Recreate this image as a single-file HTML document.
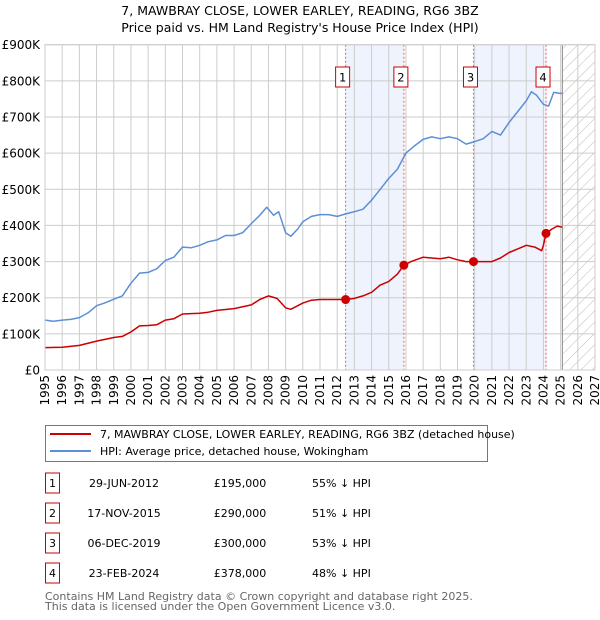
<!DOCTYPE html>
<html><head><meta charset="utf-8"><style>
body{margin:0;background:#fff;font-family:"DejaVu Sans","Liberation Sans",sans-serif;}
#wrap{position:relative;width:600px;height:620px;overflow:hidden}
svg text{font-family:"DejaVu Sans","Liberation Sans",sans-serif}
</style></head><body>
<div id="wrap">
<svg id="chart" width="600" height="620"></svg>
</div>
<script>
const hpiYears=[1995,1995.5,1996,1996.5,1997,1997.5,1998,1998.5,1999,1999.5,2000,2000.5,2001,2001.5,2002,2002.5,2003,2003.5,2004,2004.5,2005,2005.5,2006,2006.5,2007,2007.5,2007.9,2008.3,2008.6,2009,2009.3,2009.7,2010,2010.5,2011,2011.5,2012,2012.5,2013,2013.5,2014,2014.5,2015,2015.5,2016,2016.5,2017,2017.5,2018,2018.5,2019,2019.5,2020,2020.5,2021,2021.5,2022,2022.5,2023,2023.3,2023.6,2024,2024.3,2024.6,2025,2025.1];
const hpiValues=[138,135,138,140,145,158,178,186,196,205,240,268,270,280,303,312,340,338,345,355,360,372,372,380,405,428,450,428,438,380,370,390,410,425,430,430,425,432,438,445,470,500,530,555,600,620,638,645,640,645,640,625,632,640,660,650,685,715,745,770,760,735,730,768,765,766];
const redYears=[1995,1996,1997,1998,1999,1999.5,2000,2000.5,2001,2001.5,2002,2002.5,2003,2004,2004.5,2005,2006,2007,2007.5,2008,2008.5,2009,2009.3,2010,2010.5,2011,2012,2012.49,2013,2013.5,2014,2014.5,2015,2015.5,2015.88,2016.3,2017,2018,2018.5,2019,2019.5,2019.93,2020.5,2021,2021.5,2022,2022.5,2023,2023.5,2023.9,2024.0,2024.15,2024.5,2024.8,2025.1];
const redValues=[62,63,68,80,90,93,105,122,123,125,138,142,155,157,160,165,170,180,195,205,198,172,168,185,193,195,195,195,198,205,215,235,245,265,290,300,312,308,312,305,300,300,300,300,310,325,335,345,340,330,345,378,390,398,395];
const saleLabels=["1","2","3","4"];
const saleYears=[2012.49,2015.88,2019.93,2024.15];
const saleValues=[195,290,300,378];
const yTicks=[0,100,200,300,400,500,600,700,800,900];
const yTickLabels=["£0","£100K","£200K","£300K","£400K","£500K","£600K","£700K","£800K","£900K"];
const xTicks=[];for(let y=1995;y<=2027;y++)xTicks.push(y);
const saleDates=["29-JUN-2012","17-NOV-2015","06-DEC-2019","23-FEB-2024"];
const salePrices=["£195,000","£290,000","£300,000","£378,000"];
const salePcts=["55% ↓ HPI","51% ↓ HPI","53% ↓ HPI","48% ↓ HPI"];

const L=45,R=595,T=44.7,B=370,x0=1995,x1=2027,ymax=900;
const X=v=>L+(v-x0)/(x1-x0)*(R-L);
const Y=v=>B-v/ymax*(B-T);
const NS="http://www.w3.org/2000/svg";
const svg=document.getElementById('chart');
function mk(tag,attrs,parent){const e=document.createElementNS(NS,tag);for(const k in attrs)e.setAttribute(k,attrs[k]);(parent||svg).appendChild(e);return e;}
const defs=mk('defs',{});
const pat=mk('pattern',{id:'hatch',width:8,height:8,patternUnits:'userSpaceOnUse',patternTransform:'rotate(45)'},defs);
mk('line',{x1:0,y1:0,x2:0,y2:8,stroke:'#bbb','stroke-width':1},pat);
let t=mk('text',{x:300,y:15,'text-anchor':'middle','font-size':12.5,fill:'#000'});t.textContent="7, MAWBRAY CLOSE, LOWER EARLEY, READING, RG6 3BZ";

t=mk('text',{x:300,y:32,'text-anchor':'middle','font-size':12.5,fill:'#000'});t.textContent="Price paid vs. HM Land Registry's House Price Index (HPI)";

[[0,1],[2,3]].forEach((p,i)=>{const r=mk('rect',{x:X(saleYears[p[0]]),y:T,width:X(saleYears[p[1]])-X(saleYears[p[0]]),height:B-T,fill:'#eef3fd'});
});
const fut=mk('rect',{x:X(2025.1),y:T,width:R-X(2025.1),height:B-T,fill:'url(#hatch)'});

xTicks.forEach(v=>{const g=mk('line',{x1:X(v),x2:X(v),y1:T,y2:B,stroke:'#ccc','stroke-width':1});

const lb=mk('text',{transform:`translate(${X(v)+4},${B+5}) rotate(-90)`,'text-anchor':'end','font-size':12,fill:'#000'});lb.textContent=v;
});
yTicks.forEach((v,i)=>{const g=mk('line',{x1:L,x2:R,y1:Y(v),y2:Y(v),stroke:'#ccc','stroke-width':1});

const lb=mk('text',{x:L-5,y:Y(v)+4.5,'text-anchor':'end','font-size':12,fill:'#000'});lb.textContent=yTickLabels[i];
});
const vl=mk('line',{x1:X(2025.1),x2:X(2025.1),y1:T,y2:B,stroke:'#888','stroke-width':1});

saleYears.forEach((s,i)=>{const l=mk('line',{x1:X(s),x2:X(s),y1:T,y2:B,stroke:'#f06060','stroke-width':1,'stroke-dasharray':'2,2'});

const bx=mk('rect',{x:X(s)-10,y:67,width:14,height:20,fill:'#fff',stroke:'#c00','stroke-width':1});

const tt=mk('text',{x:X(s)-3,y:81.5,'text-anchor':'middle','font-size':11.5,fill:'#000'});tt.textContent=saleLabels[i];
});
function pts(xs,ys){return xs.map((v,i)=>X(v).toFixed(1)+','+Y(ys[i]).toFixed(1)).join(' ');}
const hp=mk('polyline',{points:pts(hpiYears,hpiValues),fill:'none',stroke:'#5b8fd6','stroke-width':1.5,'stroke-linejoin':'round'});

const rp=mk('polyline',{points:pts(redYears,redValues),fill:'none',stroke:'#cc0000','stroke-width':1.5,'stroke-linejoin':'round'});

saleYears.forEach((s,i)=>{const c=mk('circle',{cx:X(s),cy:Y(saleValues[i]),r:4.5,fill:'#cc0000'});
});
const fr=mk('rect',{x:L,y:T,width:R-L,height:B-T,fill:'none',stroke:'#ccc','stroke-width':1});

const lg=mk('g',{});
mk('rect',{x:45.5,y:425.5,width:442,height:36,fill:'#fff',stroke:'#777','stroke-width':1},lg);
mk('line',{x1:50,x2:91,y1:434,y2:434,stroke:'#cc0000','stroke-width':2},lg);
mk('line',{x1:50,x2:91,y1:451,y2:451,stroke:'#5b8fd6','stroke-width':2},lg);
let le=mk('text',{x:100,y:438,'font-size':11,fill:'#000'},lg);le.textContent="7, MAWBRAY CLOSE, LOWER EARLEY, READING, RG6 3BZ (detached house)";

le=mk('text',{x:100,y:455,'font-size':11,fill:'#000'},lg);le.textContent="HPI: Average price, detached house, Wokingham";

saleLabels.forEach((s,i)=>{const yc=483+i*30;
const g=mk('g',{});
mk('rect',{x:45.5,y:yc-10,width:14,height:20,fill:'#fff',stroke:'#c00','stroke-width':1},g);
let a=mk('text',{x:52.5,y:yc+4,'text-anchor':'middle','font-size':11,fill:'#000'},g);a.textContent=s;
a=mk('text',{x:124,y:yc+4,'text-anchor':'middle','font-size':11,fill:'#000'},g);a.textContent=saleDates[i];
a=mk('text',{x:240,y:yc+4,'text-anchor':'middle','font-size':11,fill:'#000'},g);a.textContent=salePrices[i];
a=mk('text',{x:312,y:yc+4,'font-size':11,fill:'#000'},g);a.textContent=salePcts[i];});
let f=mk('text',{x:45,y:600,'font-size':11,fill:'#666'});f.textContent="Contains HM Land Registry data © Crown copyright and database right 2025.";

f=mk('text',{x:45,y:610,'font-size':11,fill:'#666'});f.textContent="This data is licensed under the Open Government Licence v3.0.";

</script>
</body></html>
